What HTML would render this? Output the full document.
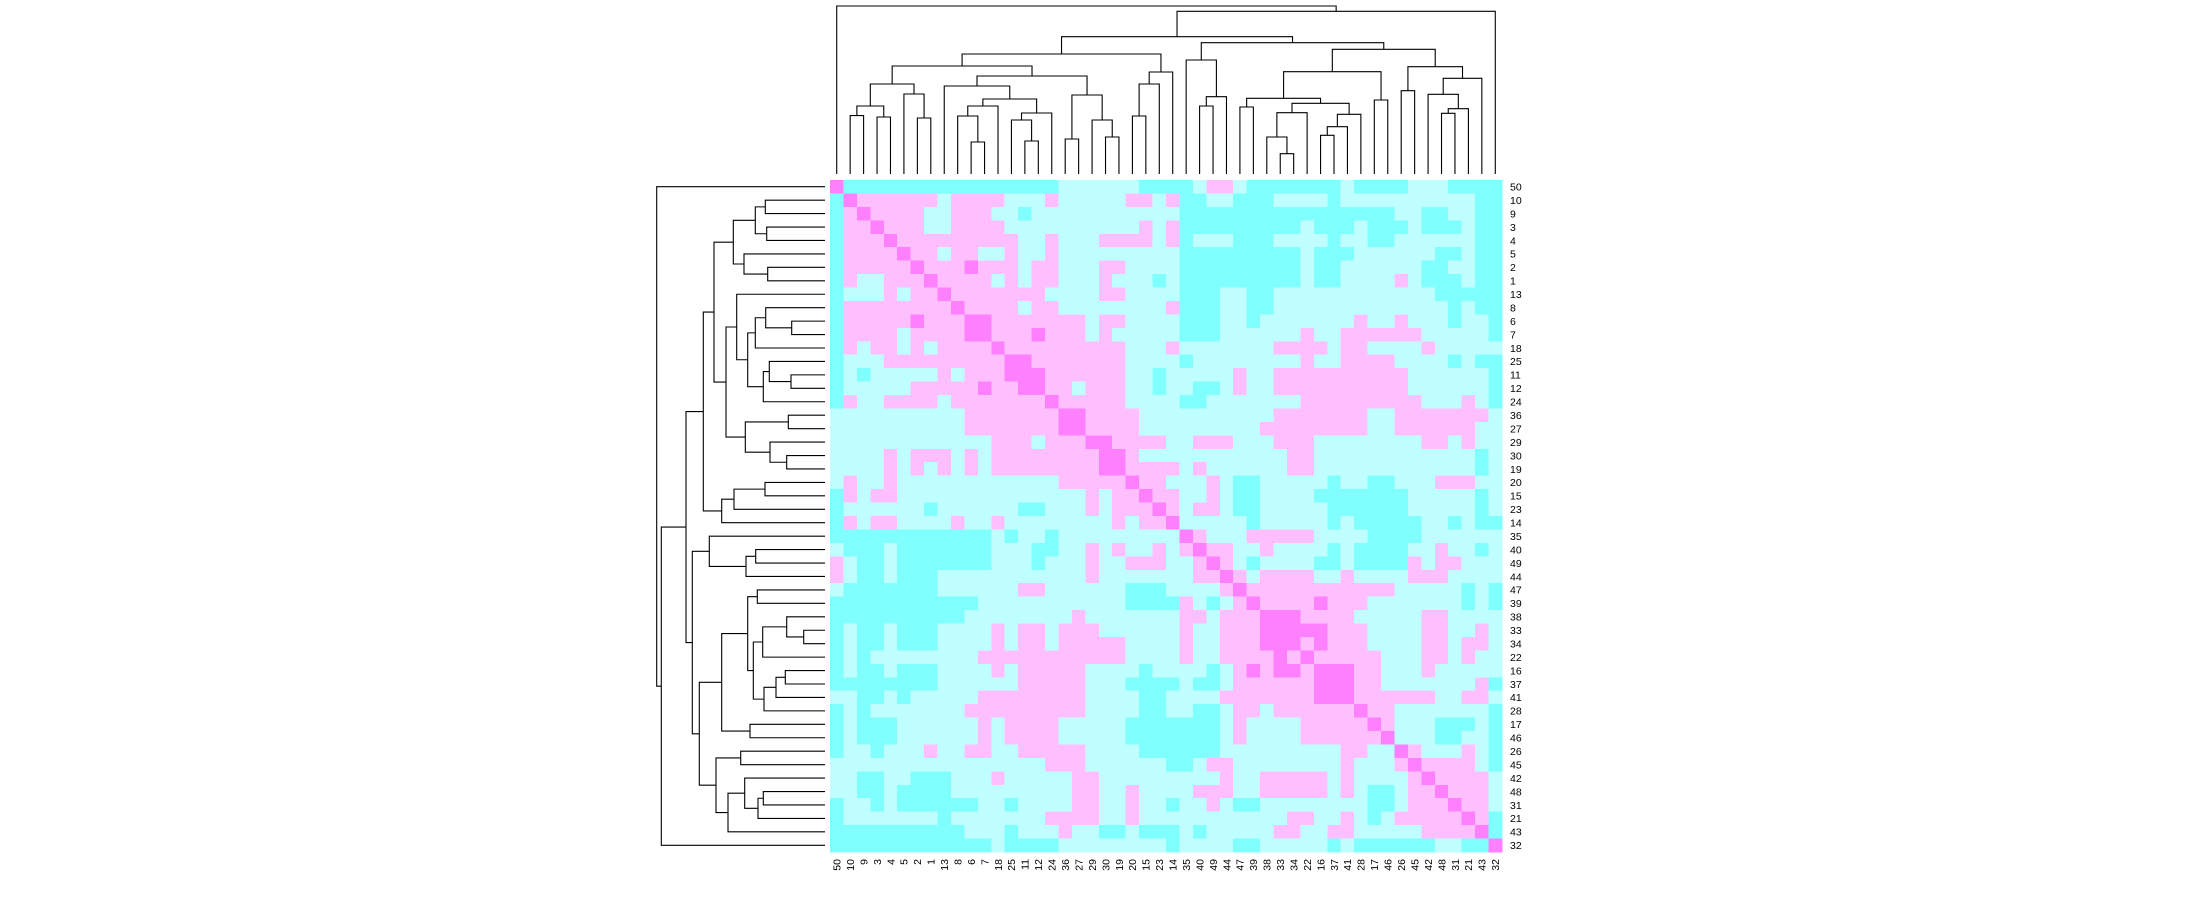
<!DOCTYPE html>
<html>
<head>
<meta charset="utf-8">
<style>
  html,body{margin:0;padding:0;background:#fff;}
  svg{display:block;font-family:"Liberation Sans",Arial,sans-serif;}
</style>
</head>
<body>
<svg id="chart" width="2200" height="900" viewBox="0 0 2200 900" xmlns="http://www.w3.org/2000/svg">
  <rect x="0" y="0" width="2200" height="900" fill="#ffffff"/>
  <g id="cells" shape-rendering="crispEdges"></g>
  <g id="topDendro" stroke="#000" stroke-width="1.1" fill="none"></g>
  <g id="leftDendro" stroke="#000" stroke-width="1.1" fill="none"></g>
  <g id="rowLabels" font-size="10.5" fill="#000"></g>
  <g id="colLabels" font-size="10.5" fill="#000"></g>
</svg>
<script>
// ---- data ----
const labels = [50,10,9,3,4,5,2,1,13,8,6,7,18,25,11,12,24,36,27,29,30,19,20,15,23,14,35,40,49,44,47,39,38,33,34,22,16,37,41,28,17,46,26,45,42,48,31,21,43,32];
// levels: C=strong cyan, L=light cyan, P=light pink, M=magenta
const matrixRows = [
"M CCCCCCCCCCCCCCCC LLLLLL CCCC L PP L CCCCCCC L CCCC LLL CCCC",
"C M PPPPPP L PPPP LLL P LLLLL PP L P CC LL CCC LLLL C LLLLLLLLLL CC",
"C P M PPPP LL PPP LL C LLLLLLLLLLL CCCCCCCCCCCCCCCC LL CC LL CC",
"C PP M PPP LL PPPP LLLLLLLLLL P L P CCCCCCCCC L CCC L CCC L CCC L CC",
"C PPP M PPPPPPPPP LL P LLL PPPP L P C LLL CCC LLLL C LL CC LLLLLL CC",
"C PPPP M PP L PP LL P LL P LLLLLLLLL CCCCCCCCC L CCC LLLLLL CC L CC",
"C PPPPP M PPP M PPP L PP LLL PP LLLL CCCCCCCCC L CC LLLLLL CC LL CC",
"C P LL PPP M PPPP L P L PP LLL P LLL C L CCCCCCCCC L CC LLLL P L CCC L CC",
"C LLL P L PP M PPPPPPP LLLL PP LLLL CCC LL CC LLLLLLLLLLLL CCCCC",
"C PPPPPPPP M PPPP L PP LLLLLLLL P CCC LL CC LLLLLLLLLLLLL C L CC",
"C PPPPP M PPP MM PPPPPPP L PP LLLL CCC LL C LLLLLLL P LL P LLL C LL C",
"C PPPP L PPPP MM PPP M PPP L P LLLLL CCC LLLLLL P LL PPPPPP LLLLL C",
"C P L PP L P L PPPP M PPPPPPPPP LLL P LLLLLLL PPPP L PP LLLL P LLLLL",
"C LLL PPPPPPPPP MM PPPPPPP LLLL C LLLLLLLL P LL PPPP LLLL C L CC",
"C L C LLLLL P L PPP MMM PPPPPP LL C LLLLL P LL PPPPPPPPPP LLLLLL C",
"C LLLLL PPPPP M PP MM PP L PPP LL C LL CC L P LL PPPPPPPPPP LLLLLL C",
"C P LL PPPP L PPPPPPP M PPPPP LLLL CC LLLLLLL PPPPPPPPP LLL P L C",
"LLLLLLLLLL PPPPPPP MM PPPP LLLLLLLLLL PPPPPPP LL PPPPPPP L",
"LLLLLLLLLL PPPPPPP MM PPPP LLLLLLLLL PPPPPPPP LL PPPPPP LL",
"LLLLLLLLLLLL PPP L PPP MM PPPP LL PPP LLL PPP LLLLLLLL PP L P LL",
"LLLL P L PPP L P L PPPPPPPP MM P LLLLLLLLLLL PP LLLLLLLLLLLL C L",
"LLLL P L P L P L P L PPPPPPPP MM PPPP L P LLLLLL PP LLLLLLLLLLLL C L",
"L P LL P LLLLLLLLLLLL PPPPP M PP LLL P L CC LLLLL C LL CC LLL PPP LL",
"C P L PP LLLLLLLLLLLLLL P L PP M PP LL P L CC LLLL CCCCCCC LLLLL C L",
"C LLLLLL C LLLLLL CC LLL P L PPP M P L PP L CC LLLLL CCCCCC LLLLL C L",
"C P L PP LLLL P LL P LLLLLLLL P L PP M LLLLL C LLLLL C L CCCCC LL C L CC",
"CCCCCCCCCCCC L C LL C LLLLLLLLL M P LLL PPPPP LLLL CCCC LLLLLL",
"L CCC L CCCCCCC LLL CC LL P L P LL P L P M PP LL P LLLL C L CCCC LL P LL C L",
"P L CC L CCCCCCC LLL C LLL P LL PPP LL P M P L C LLLL CC L CCCC P L PP LLL",
"P L CC L CCC LLLLLLLLLLL P LLLLLLL PP M P L PPPP LL P LLLL PPP LLLL",
"L CCCCCCC LLLLLL PP LLLLLL CCC LLLL P M PPPPPPPPPPP LLLLL C L C",
"CCCCCCCCCCC LLLLLLLLLLL CCCC P L C L P M PPPP M PPP LLLLLLL C L C",
"CCCCCCCCCC LLLLLLLL P LLLLLLL PP L PPP MMM PPPP LLLLL PP LLLL",
"C L CC L CCC LLLL P L PP L PPP LLLLLL P LL PPP MMMMM PPP LLLL PP LL P L",
"C L CC L CCC LLLL P L PP L PPPPP LLLL P LL PPP MMM P M PPP LLLL PP L PP L",
"C L C LLLLLLLL PPPPPPPPPPP LLLL P LL PPPP M P M PPPPP LLL PP L P LL",
"C L CC L CCC LLLL P L PPPPP LLLL C LLLL C L P M P MM P MMM PP LLL P LLLLL",
"CCCCCCCC LLLLLL PPPPP LLL CCCC L CC L PPPPPP MMM PP LLLLLLL P C",
"LL CC L C LLLLL PPPPPPPP LLLL CC LLLL PPPPPPP MMM PPPPPP LL PP L",
"C L C LLLLLLL PPPPPPPPP LLLL CC LL CC L PP L PPPPPP M PP LLLLLLL C",
"C L CCC LLLLLL P L PPPP LLLLL CCCCCCC L P LLLL PPPPP M P LLL CCC L C",
"C L CCC LLLLLL P L PPPP LLLLL CCCCCCC L P LLLL PPPPPP M LLL CC LL C",
"C LL C LLL P LL PP LL PPPPP LLLL CCCCCC LLLLLLLLL PP LL M P LLL P L C",
"LLLLLLLLLLLLLLLL PPP LLLLLL CC L PP LLLLLLLL P LLL P M PPPP L C",
"LL CC LL CCC LLL P LLLLL PP LLLLLLLLL P LL PPPPP L P LLLL P M PPPP L",
"LL CC L CCCC LLLLLLLLL PP LL P LLLL PPP LL PPPPP L P L CC L PP M PPP L",
"C LL C L CCCCCC LL C LLLL PP LL P LL C LL P L CC LLLLLLLL CC L PPP M PP L",
"C LLLLLLL C LLLLLLL PPPP LL P LLLLLLLLLLL PP LL P L C L PPPPP M P C",
"CCCCCCCCCC LLL C LLL P LL CC L CCC L C LLLLL PP LL PP LLLLL PPPP M C",
"CCCCCCCCCCCC L CCCC LLLLLLLL C LLLL CC LLLLL C L CCCCCC LL CC M"
];
// dendrogram merges: negative = leaf index -(k+1), positive = merge number (1-based)
const mergeA = [-2,-4,1,-7,-6,3,-11,-10,8,-15,-14,11,9,-9,-18,-21,-20,15,14,6,-23,21,22,20,-28,25,-27,-31,-34,-33,30,-37,32,33,31,28,-41,36,-43,-46,40,-45,42,39,38,27,24,47,-1];
const mergeB = [-3,-5,2,-8,4,5,-12,7,-13,-16,10,-17,12,13,-19,-22,16,17,18,19,-24,-25,-26,23,-29,-30,26,-32,-35,29,-36,-38,-39,-40,34,35,-42,37,-44,-47,-48,41,-49,43,44,45,46,-50,48];
const colHeights = [58.4,57,68,56,80,90,32,58,68,33,54,61,75,88,35,37,54,79,98,108,58,90,102,120,68,77.3,114,67,20.3,37,61.3,38.7,47.3,59.7,70.7,75.7,74,102.3,83.3,60.7,65.3,79.7,95.7,107.3,124.7,131.3,137.3,162.7,168];
const rowHeights = [59.7,58.3,69.7,57.3,81,91.7,33.3,59.3,69.7,34,55.7,61.7,77.3,88.3,36.7,38.3,55,79.7,99,111,60,91,103.3,121.7,69.3,79,115.7,67.7,21.3,38.3,62.3,39.7,49,61,71.7,77.3,75,103.3,84.3,61.7,67,80.3,97,109,125.7,132.7,139,163.7,168.3];

// ---- layout ----
const X0 = 830, Y0 = 180, CELL = 13.44, N = 50;
const colors = {C:'#80ffff', L:'#bfffff', P:'#ffbfff', M:'#ff80ff'};
const NS = 'http://www.w3.org/2000/svg';
function xCol(j){ return X0 + j*CELL; }
function yRow(i){ return Y0 + i*CELL; }
function topY(h){ return 174 - h; }
function leftX(h){ return 825 - h; }

// cells
const cellsG = document.getElementById('cells');
matrixRows.forEach((rs, i) => {
  let s = rs.replace(/\s+/g,'');
  while (s.length < N) s += 'L';
  for (let j = 0; j < N; j++) {
    const r = document.createElementNS(NS,'rect');
    r.setAttribute('x', xCol(j).toFixed(2));
    r.setAttribute('y', yRow(i).toFixed(2));
    r.setAttribute('width', (CELL+0.6).toFixed(2));
    r.setAttribute('height', (CELL+0.6).toFixed(2));
    r.setAttribute('fill', colors[s[j]] || colors.L);
    
    
    cellsG.appendChild(r);
  }
});

// dendrograms
function buildDendro(g, heights, orient) {
  const pos = [], hts = [];
  function info(id) {
    if (id < 0) { const k = -id-1; return {p: (orient==='top' ? xCol(k) : yRow(k)) + CELL/2, h: 0}; }
    return {p: pos[id-1], h: hts[id-1]};
  }
  for (let m = 0; m < mergeA.length; m++) {
    const a = info(mergeA[m]), b = info(mergeB[m]);
    const h = heights[m];
    pos.push((a.p + b.p)/2); hts.push(h);
    let d;
    if (orient === 'top') {
      d = 'M' + a.p.toFixed(2) + ',' + topY(a.h).toFixed(2) + 'V' + topY(h).toFixed(2) + 'H' + b.p.toFixed(2) + 'V' + topY(b.h).toFixed(2);
    } else {
      d = 'M' + leftX(a.h).toFixed(2) + ',' + a.p.toFixed(2) + 'H' + leftX(h).toFixed(2) + 'V' + b.p.toFixed(2) + 'H' + leftX(b.h).toFixed(2);
    }
    const path = document.createElementNS(NS,'path');
    path.setAttribute('d', d);
    
    
    g.appendChild(path);
  }
}
buildDendro(document.getElementById('topDendro'), colHeights, 'top');
buildDendro(document.getElementById('leftDendro'), rowHeights, 'left');

// labels
const rowG = document.getElementById('rowLabels');
const colG = document.getElementById('colLabels');
labels.forEach((lab, k) => {
  const t = document.createElementNS(NS,'text');
  t.setAttribute('x', 1510);
  t.setAttribute('y', (yRow(k) + CELL/2 + 3.8).toFixed(2));
  t.textContent = lab;
  
  
  rowG.appendChild(t);
  const c = document.createElementNS(NS,'text');
  const cx = xCol(k) + CELL/2 + 3.8;
  c.setAttribute('x', cx.toFixed(2));
  c.setAttribute('y', 859);
  c.setAttribute('text-anchor', 'end');
  c.setAttribute('transform', 'rotate(-90 ' + cx.toFixed(2) + ' 859)');
  c.textContent = lab;
  
  
  colG.appendChild(c);
});
</script>
</body>
</html>
